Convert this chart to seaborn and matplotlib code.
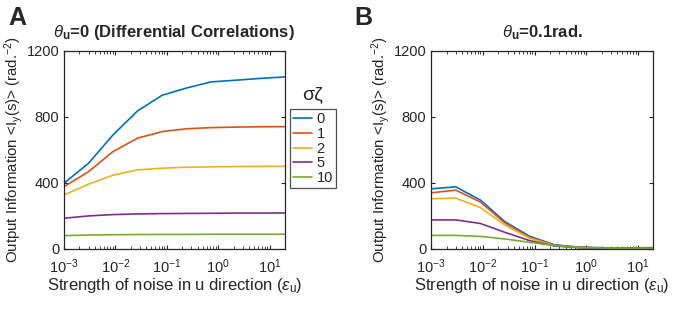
import numpy as np
import pandas as pd
import matplotlib
matplotlib.use("Agg")
import matplotlib.pyplot as plt
import seaborn as sns

# noise strength: factor-of-3 steps from 1e-3
eps_u = [0.001, 0.003, 0.009, 0.027, 0.081, 0.243, 0.729, 2.187, 6.561, 19.683]
sigmas = ["0", "1", "2", "5", "10"]

# panel A: theta_u = 0
info_a = {
    "0":  [398, 519, 691, 836, 931, 975, 1012, 1022, 1033, 1042],
    "1":  [377, 468, 590, 671, 711, 728, 735, 738, 740, 741],
    "2":  [327, 392, 447, 479, 489, 495, 497, 499, 500, 501],
    "5":  [186, 200, 208, 212, 214, 215, 216, 217, 217, 218],
    "10": [81, 84, 86, 87, 88, 88, 89, 89, 89, 89],
}
# panel B: theta_u = 0.1 rad
info_b = {
    "0":  [364, 376, 296, 164, 76, 25, 11, 7, 6, 8],
    "1":  [340, 356, 284, 156, 70, 22, 9, 5, 4, 3],
    "2":  [304, 308, 250, 144, 64, 20, 8, 5, 4, 3],
    "5":  [176, 176, 154, 100, 50, 18, 8, 5, 3, 3],
    "10": [82, 82, 76, 60, 40, 20, 9, 5, 3, 3],
}

colors = ["#0072BD", "#D95319", "#EDB120", "#7E2F8E", "#77AC30"]


def to_long(d):
    rows = []
    for s in sigmas:
        for x, y in zip(eps_u, d[s]):
            rows.append({"eps": x, "info": y, "sigma": s})
    return pd.DataFrame(rows)


sns.set_style("ticks")
plt.rcParams["font.family"] = ["Liberation Sans", "DejaVu Sans"]
plt.rcParams["mathtext.fontset"] = "custom"
plt.rcParams["mathtext.rm"] = "Liberation Sans"
plt.rcParams["mathtext.it"] = "Liberation Sans:italic"
plt.rcParams["mathtext.bf"] = "Liberation Sans:bold"
plt.rcParams["axes.edgecolor"] = "#262626"

fig = plt.figure(figsize=(6.92, 3.10), dpi=100)
ax_a = fig.add_axes([0.0925, 0.197, 0.319, 0.639])
ax_b = fig.add_axes([0.623, 0.197, 0.321, 0.639])

for ax, d in [(ax_a, info_a), (ax_b, info_b)]:
    sns.lineplot(data=to_long(d), x="eps", y="info", hue="sigma",
                 hue_order=sigmas, palette=colors, linewidth=1.2,
                 ax=ax, legend=(ax is ax_a))
    ax.set_xscale("log")
    ax.set_xlim(1e-3, 19.683)
    ax.set_ylim(0, 1200)
    ax.set_yticks([0, 400, 800, 1200])
    ax.set_xticks([1e-3, 1e-2, 1e-1, 1e0, 1e1])
    ax.tick_params(which="both", direction="in", top=True, right=True,
                   labelsize=10.5, color="#262626", labelcolor="#262626")
    ax.tick_params(which="major", length=3)
    ax.tick_params(which="minor", length=2)
    ax.tick_params(axis="x", which="major", pad=6)
    for sp in ax.spines.values():
        sp.set_linewidth(0.9)
    ax.set_xlabel(r"Strength of noise in u direction ($\epsilon_{\mathrm{u}}$)",
                  fontsize=12, color="#262626", labelpad=0)
    ax.set_ylabel(r"Output Information <I$_{\mathrm{y}}$(s)> (rad.$^{-2}$)",
                  fontsize=10.8, color="#262626", labelpad=1)

ax_a.set_title(r"$\theta_{\mathbf{u}}$=0 (Differential Correlations)",
               fontsize=12, fontweight="bold", pad=10)
ax_b.set_title(r"$\theta_{\mathbf{u}}$=0.1rad.",
               fontsize=12, fontweight="bold", pad=10)

leg = ax_a.legend(loc="upper left", bbox_to_anchor=(1.025, 0.705),
                  frameon=True, fancybox=False, fontsize=10.5,
                  handlelength=1.3, handletextpad=0.3, borderpad=0.2,
                  labelspacing=0.05, borderaxespad=0)
leg.get_frame().set_edgecolor("#262626")
leg.get_frame().set_linewidth(0.9)
fig.text(0.451, 0.693, r"σζ", fontsize=14, ha="center", va="center",
         color="#262626")

fig.text(0.012, 0.98, "A", fontsize=18, fontweight="bold", va="top")
fig.text(0.512, 0.98, "B", fontsize=18, fontweight="bold", va="top")

fig.savefig("out.png", dpi=100)
